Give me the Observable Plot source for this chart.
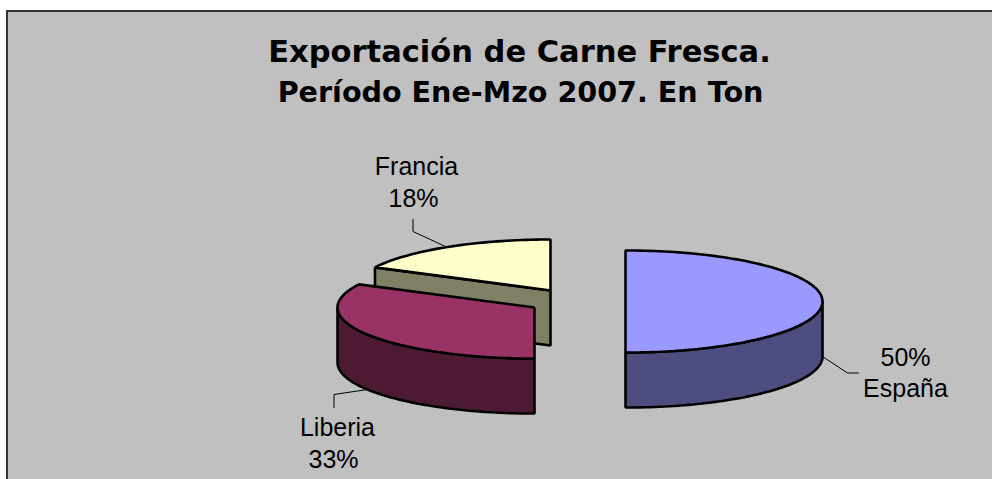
<!DOCTYPE html>
<html><head><meta charset="utf-8">
<script src="https://cdn.jsdelivr.net/npm/d3@7"></script>
<script src="https://cdn.jsdelivr.net/npm/@observablehq/plot@0.6"></script>
<style>html,body{margin:0;padding:0;background:#fff}svg{display:block}</style>
</head><body><div id="c"></div>
<script>
const categories = ["España", "Liberia", "Francia"];
const shares = [50, 32.5, 17.5];

const topColors = {"España": "#9999FF", "Liberia": "#993366", "Francia": "#FFFFCC"};
const sideColors = {"España": "#4D4D80", "Liberia": "#4D1A33", "Francia": "#808066"};
const centers = {"España": [625, 301], "Liberia": [534, 307], "Francia": [550, 290]};
const RX = 197, RY = 51, DEPTH = 55;

const total = d3.sum(shares);
let acc = 0;
const slices = categories.map((name, i) => {
  const a0 = acc / total * 2 * Math.PI;
  acc += shares[i];
  const a1 = acc / total * 2 * Math.PI;
  return {name, a0, a1, share: shares[i], c: centers[name]};
});
const rim = (s, a, dz = 0) => ({x: s.c[0] + RX * Math.sin(a), y: s.c[1] - RY * Math.cos(a) + dz});
const arc = (s, a0, a1, dz = 0) => {
  const n = Math.max(2, Math.ceil(Math.abs(a1 - a0) * 40));
  return d3.range(n + 1).map(k => rim(s, a0 + (a1 - a0) * k / n, dz));
};
const closed = pts => [...pts, pts[0]];
const topFace = s => closed([{x: s.c[0], y: s.c[1]}, ...arc(s, s.a0, s.a1)]);
const outerWall = s => {
  const a0 = Math.max(s.a0, Math.PI / 2), a1 = Math.min(s.a1, 1.5 * Math.PI);
  return closed([...arc(s, a0, a1), ...arc(s, a1, a0, DEPTH)]);
};
const cutWall = s => {
  const o = rim(s, s.a0), c = {x: s.c[0], y: s.c[1]};
  return closed([o, c, {x: c.x, y: c.y + DEPTH}, {x: o.x, y: o.y + DEPTH}]);
};
const bySlice = Object.fromEntries(slices.map(s => [s.name, s]));
const poly = (pts, fill) => Plot.line(pts, {x: "x", y: "y", fill, stroke: "#000", strokeWidth: 2.6, strokeLinejoin: "miter", strokeLinecap: "butt", curve: "linear"});

const sp = bySlice["España"], li = bySlice["Liberia"], fr = bySlice["Francia"];

const leaders = [
  [{x: 822, y: 356}, {x: 847, y: 372.5}, {x: 858, y: 372.5}],
  [{x: 367, y: 389}, {x: 333.5, y: 394}, {x: 333.5, y: 407}],
  [{x: 445, y: 246}, {x: 412.5, y: 231}, {x: 412.5, y: 219}]
];
const labelRows = [
  {t: Math.round(sp.share) + "%", x: 905, y: 357},
  {t: "España", x: 905, y: 388},
  {t: "Liberia", x: 337, y: 427},
  {t: Math.round(li.share) + "%", x: 333, y: 459.7},
  {t: "Francia", x: 416, y: 166},
  {t: Math.round(fr.share) + "%", x: 413, y: 198.7}
];

const chart = Plot.plot({
  width: 992, height: 479,
  margin: 0,
  x: {domain: [0, 992], range: [0, 992], axis: null},
  y: {domain: [0, 479], range: [0, 479], axis: null},
  style: {background: "#fff", overflow: "hidden"},
  marks: [
    Plot.rect([{}], {x1: () => 7, x2: () => 1010, y1: () => 11, y2: () => 490, fill: "#C0C0C0", stroke: "#333", strokeWidth: 2}),
    ...leaders.map(l => Plot.line(l, {x: "x", y: "y", stroke: "#000", strokeWidth: 1, curve: "linear", strokeLinejoin: "miter"})),
    poly(cutWall(fr), sideColors["Francia"]),
    poly(topFace(fr), topColors["Francia"]),
    poly(outerWall(li), sideColors["Liberia"]),
    poly(topFace(li), topColors["Liberia"]),
    poly(outerWall(sp), sideColors["España"]),
    poly(topFace(sp), topColors["España"]),
    Plot.text(["Exportación de Carne Fresca."], {x: () => 519, y: () => 52, text: d => d, fontFamily: "DejaVu Sans", fontWeight: "bold", fontSize: 30.5, fill: "#000"}),
    Plot.text(["Período Ene-Mzo 2007. En Ton"], {x: () => 520, y: () => 92, text: d => d, fontFamily: "DejaVu Sans", fontWeight: "bold", fontSize: 28.6, fill: "#000"}),
    Plot.text(labelRows, {x: "x", y: "y", text: "t", fontFamily: "Liberation Sans", fontSize: 25, fill: "#000"})
  ]
});
document.getElementById("c").appendChild(chart);
</script></body></html>
